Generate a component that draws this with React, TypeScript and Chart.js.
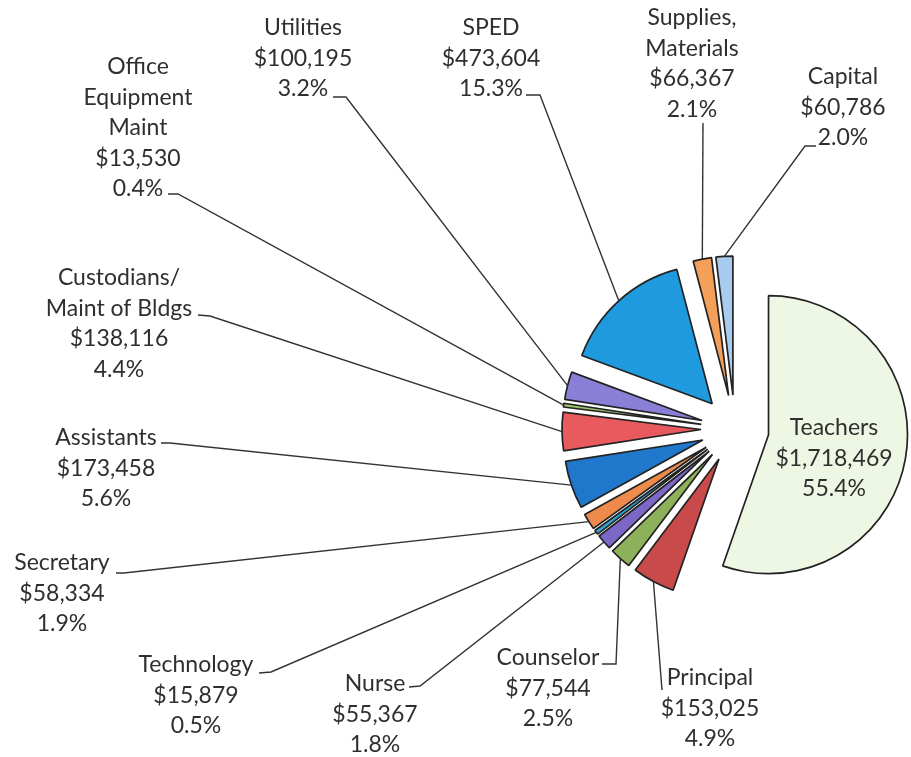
import React, { useEffect, useRef } from 'react';
import { Chart, registerables } from 'chart.js';

Chart.register(...registerables);

// ---- data ----
const categories = [
  'Teachers',
  'Principal',
  'Counselor',
  'Nurse',
  'Technology',
  'Secretary',
  'Assistants',
  'Custodians/\nMaint of Bldgs',
  'Office\nEquipment\nMaint',
  'Utilities',
  'SPED',
  'Supplies,\nMaterials',
  'Capital',
];
const amounts = [
  1718469, 153025, 77544, 55367, 15879, 58334, 173458, 138116, 13530, 100195, 473604, 66367, 60786,
];
const sliceColors = [
  '#EEF6E4',
  '#C94A4B',
  '#8DB05A',
  '#7B68C6',
  '#2FA6D6',
  '#EE8B4C',
  '#1F78CB',
  '#E85A5E',
  '#9CC46C',
  '#8A7FD6',
  '#1F9ADE',
  '#F4A05A',
  '#A7CCF0',
];

// ---- layout of the labels (text centre, first line centre, leader start/elbow) ----
type LabelPos = { x: number; y: number; start?: [number, number]; elbow?: [number, number] };
const labelLayout: LabelPos[] = [
  { x: 834, y: 428 },
  { x: 710, y: 678, start: [662, 690] },
  { x: 548, y: 658, start: [602, 664], elbow: [616, 664] },
  { x: 375, y: 684, start: [409, 687], elbow: [420, 686] },
  { x: 196, y: 665, start: [259, 673], elbow: [271, 672] },
  { x: 62, y: 563, start: [116, 573], elbow: [124, 573] },
  { x: 106, y: 438, start: [161, 443], elbow: [170, 443] },
  { x: 119, y: 278, start: [198, 315], elbow: [210, 316] },
  { x: 138, y: 67, start: [168, 194], elbow: [178, 194] },
  { x: 303, y: 28, start: [333, 97], elbow: [346, 97] },
  { x: 491, y: 28, start: [526, 95], elbow: [540, 95] },
  { x: 692, y: 18, start: [703, 123] },
  { x: 843, y: 77, start: [816, 146], elbow: [805, 146] },
];

const EXPLODE = 34;
const RADIUS = 139;
const LINE_H = 30.5;
const FONT = '23px Lato, "Open Sans", sans-serif';
const TEXT_COLOR = '#2f2f2f';
const LINE_COLOR = '#333333';

const total = amounts.reduce((a, b) => a + b, 0);

const explodePlugin = {
  id: 'explodeSlices',
  afterDatasetUpdate(chart: any, args: any) {
    const meta = chart.getDatasetMeta(args.index);
    meta.data.forEach((arc: any) => {
      const mid = (arc.startAngle + arc.endAngle) / 2;
      arc.x += Math.cos(mid) * EXPLODE;
      arc.y += Math.sin(mid) * EXPLODE;
    });
  },
};

const labelPlugin = {
  id: 'sliceLabels',
  afterDatasetsDraw(chart: any) {
    const ctx = chart.ctx as CanvasRenderingContext2D;
    const meta = chart.getDatasetMeta(0);
    ctx.save();
    meta.data.forEach((arc: any, i: number) => {
      const pos = labelLayout[i];
      if (!pos) return;
      const mid = (arc.startAngle + arc.endAngle) / 2;
      const px = arc.x + Math.cos(mid) * arc.outerRadius;
      const py = arc.y + Math.sin(mid) * arc.outerRadius;
      if (pos.start) {
        ctx.beginPath();
        ctx.strokeStyle = LINE_COLOR;
        ctx.lineWidth = 1.4;
        ctx.moveTo(pos.start[0], pos.start[1]);
        if (pos.elbow) ctx.lineTo(pos.elbow[0], pos.elbow[1]);
        ctx.lineTo(px, py);
        ctx.stroke();
      }
      const lines = [
        ...categories[i].split('\n'),
        '$' + amounts[i].toLocaleString('en-US'),
        ((amounts[i] / total) * 100).toFixed(1) + '%',
      ];
      ctx.font = FONT;
      ctx.fillStyle = TEXT_COLOR;
      ctx.textAlign = 'center';
      ctx.textBaseline = 'middle';
      lines.forEach((t, k) => ctx.fillText(t, pos.x, pos.y + k * LINE_H));
    });
    ctx.restore();
  },
};

export default function App() {
  const ref = useRef<HTMLCanvasElement | null>(null);
  useEffect(() => {
    if (!ref.current) return;
    const chart = new Chart(ref.current, {
      type: 'pie',
      data: {
        labels: categories.map((c) => c.replace(/\n/g, ' ')),
        datasets: [
          {
            data: amounts,
            backgroundColor: sliceColors,
            borderColor: '#222222',
            borderWidth: 1.7,
            radius: RADIUS,
          } as any,
        ],
      },
      options: {
        animation: false,
        responsive: false,
        events: [],
        layout: { padding: { left: 559, top: 101, right: 0, bottom: 0 } },
        plugins: {
          legend: { display: false },
          tooltip: { enabled: false },
        },
      },
      plugins: [explodePlugin, labelPlugin],
    });
    return () => chart.destroy();
  }, []);
  return (
    <div style={{ position: 'absolute', left: 0, top: 0, width: 911, height: 757, background: '#fff' }}>
      <canvas ref={ref} width={911} height={757} />
    </div>
  );
}
